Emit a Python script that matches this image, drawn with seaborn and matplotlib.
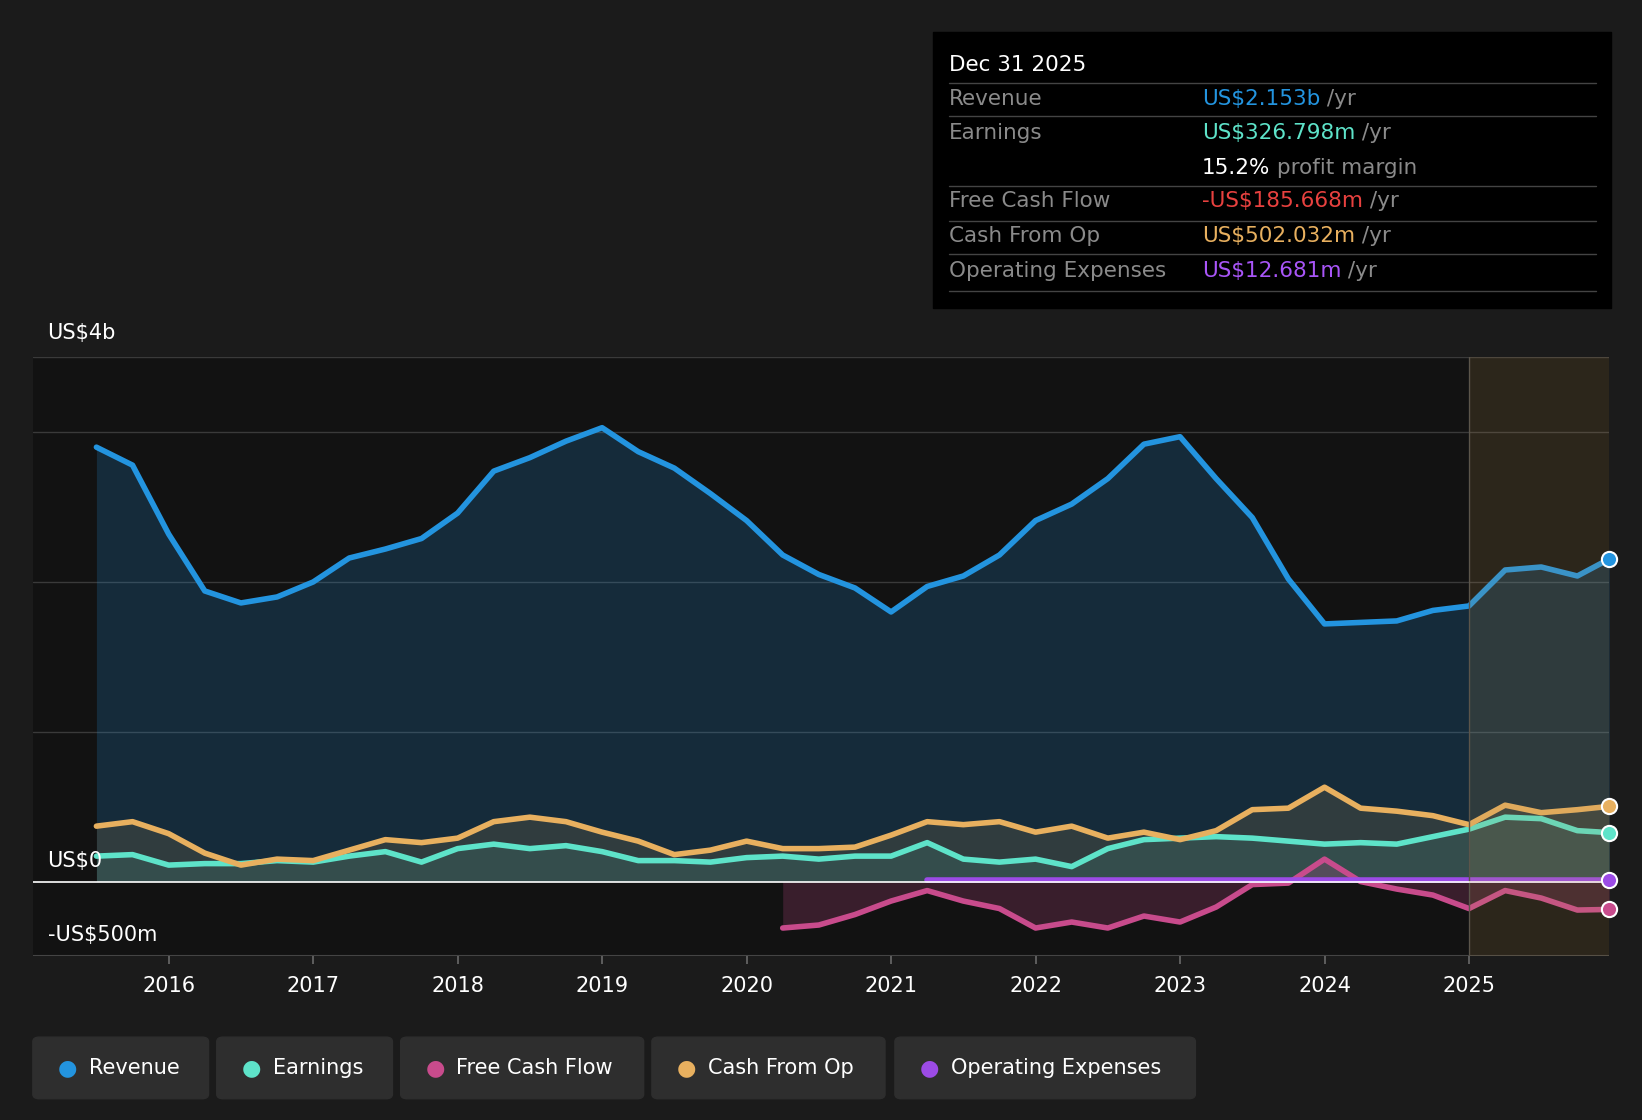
import numpy as np
import pandas as pd
import matplotlib
matplotlib.use("Agg")
import matplotlib.pyplot as plt
from matplotlib.patches import FancyBboxPatch, Rectangle
import seaborn as sns

# quarterly values, US$ billions
years = [2015.5 + 0.25 * i for i in range(42)] + [2025.97]
revenue = [2.90, 2.78, 2.32, 1.94, 1.86, 1.90, 2.00, 2.16, 2.22, 2.29, 2.46, 2.74, 2.83, 2.94,
           3.03, 2.87, 2.76, 2.59, 2.41, 2.18, 2.05, 1.96, 1.80, 1.97, 2.04, 2.18, 2.41, 2.52,
           2.69, 2.92, 2.97, 2.69, 2.43, 2.02, 1.72, 1.73, 1.74, 1.81, 1.84, 2.08, 2.10, 2.04, 2.153]
earnings = [0.17, 0.18, 0.11, 0.12, 0.12, 0.14, 0.13, 0.17, 0.20, 0.13, 0.22, 0.25, 0.22, 0.24,
            0.20, 0.14, 0.14, 0.13, 0.16, 0.17, 0.15, 0.17, 0.17, 0.26, 0.15, 0.13, 0.15, 0.10,
            0.22, 0.28, 0.29, 0.30, 0.29, 0.27, 0.25, 0.26, 0.25, 0.30, 0.35, 0.43, 0.42, 0.34, 0.327]
cash_op = [0.37, 0.40, 0.32, 0.19, 0.11, 0.15, 0.14, 0.21, 0.28, 0.26, 0.29, 0.40, 0.43, 0.40,
           0.33, 0.27, 0.18, 0.21, 0.27, 0.22, 0.22, 0.23, 0.31, 0.40, 0.38, 0.40, 0.33, 0.37,
           0.29, 0.33, 0.28, 0.34, 0.48, 0.49, 0.63, 0.49, 0.47, 0.44, 0.38, 0.51, 0.46, 0.48, 0.502]
fcf_years = years[19:]
fcf = [-0.31, -0.29, -0.22, -0.13, -0.06, -0.13, -0.18, -0.31, -0.27, -0.31, -0.23, -0.27,
       -0.17, -0.02, -0.01, 0.15, 0.0, -0.05, -0.09, -0.18, -0.06, -0.11, -0.19, -0.186]
opex_years = years[23:]
opex = [0.012] * len(opex_years)

x_ticks = list(range(2016, 2026))

BG = "#1b1b1b"
C_REV, C_EARN, C_FCF, C_CFO, C_OPEX = "#2394df", "#5ee3c9", "#c84b8c", "#e8b05f", "#9c4be6"

sns.set_theme(style="dark")
plt.rcParams["font.family"] = ["DejaVu Sans"]
fig = plt.figure(figsize=(16.42, 11.2), dpi=100, facecolor=BG)
ax = fig.add_axes([0.02, 0.146, 0.96, 0.535])
ax.set_facecolor("#121212")

ax.fill_between(years, revenue, 0, color=C_REV, alpha=0.2, lw=0)
ax.fill_between(years, cash_op, 0, color=C_CFO, alpha=0.13, lw=0)
ax.fill_between(years, earnings, 0, color=C_EARN, alpha=0.1, lw=0)
ax.fill_between(fcf_years, fcf, 0, color=C_FCF, alpha=0.22, lw=0)

series = [(years, revenue, C_REV), (years, earnings, C_EARN), (years, cash_op, C_CFO),
          (fcf_years, fcf, C_FCF), (opex_years, opex, C_OPEX)]
for xs, ys, c in series:
    sns.lineplot(x=xs, y=ys, color=c, lw=4, ax=ax)
    ax.scatter([xs[-1]], [ys[-1]], s=120, color=c, edgecolor="white", lw=1.5, zorder=5, clip_on=False)

ax.add_patch(Rectangle((2025, -0.5), 0.97, 4, color="#b8904f", alpha=0.16, lw=0, zorder=4))
ax.axvline(2025, color="#4a4a4a", lw=1)
ax.set_xlim(2015.06, 2025.97)
ax.set_ylim(-0.5, 3.5)
for yv in [1.0, 2.0, 3.0, 3.5]:
    ax.axhline(yv, color="#3a3a3a", lw=1, zorder=0)
ax.axhline(-0.5, color="#444444", lw=1.5)
ax.axhline(0, color="white", lw=1.2)
ax.set_yticks([])
ax.set_xticks(x_ticks)
ax.set_xticklabels([str(t) for t in x_ticks], color="white", fontsize=15)
ax.tick_params(axis="x", length=6, color="#666666", pad=8, bottom=True)
for s in ax.spines.values():
    s.set_visible(False)
ax.grid(False)

fig.text(0.029, 0.697, "US$4b", color="white", fontsize=15)
fig.text(0.029, 0.226, "US$0", color="white", fontsize=15)
fig.text(0.029, 0.160, "-US$500m", color="white", fontsize=15)

# tooltip box
fig.patches.append(Rectangle((0.568, 0.725), 0.413, 0.246, transform=fig.transFigure,
                             color="black", zorder=0))
fig.text(0.578, 0.937, "Dec 31 2025", color="white", fontsize=15.5)
rows = [("Revenue", "US$2.153b", C_REV, " /yr"),
        ("Earnings", "US$326.798m", C_EARN, " /yr"),
        ("", "15.2%", "white", " profit margin"),
        ("Free Cash Flow", "-US$185.668m", "#e8413f", " /yr"),
        ("Cash From Op", "US$502.032m", C_CFO, " /yr"),
        ("Operating Expenses", "US$12.681m", "#a855f7", " /yr")]
ys_rows = [0.906, 0.876, 0.845, 0.815, 0.784, 0.753]
for (lab, val, col, suf), yy in zip(rows, ys_rows):
    fig.text(0.578, yy, lab, color="#8a8a8a", fontsize=15.5)
    t = fig.text(0.732, yy, val, color=col, fontsize=15.5)
    fig.canvas.draw()
    bb = t.get_window_extent()
    fig.text(bb.x1 / fig.bbox.width, yy, suf, color="#8a8a8a", fontsize=15.5)
for yy in [0.926, 0.896, 0.834, 0.803, 0.773, 0.740]:
    fig.lines.append(plt.Line2D([0.578, 0.972], [yy, yy], transform=fig.transFigure,
                                color="#444444", lw=1))

# legend buttons
legend = [("Revenue", C_REV, 0.020, 0.107), ("Earnings", C_EARN, 0.132, 0.107),
          ("Free Cash Flow", C_FCF, 0.244, 0.148), ("Cash From Op", C_CFO, 0.397, 0.142),
          ("Operating Expenses", C_OPEX, 0.545, 0.183)]
for name, c, x0, w in legend:
    fig.patches.append(FancyBboxPatch((x0, 0.019), w, 0.055, boxstyle="round,pad=0,rounding_size=0.004",
                                      transform=fig.transFigure, color="#2e2e2e"))
    fig.text(x0 + 0.015, 0.0465, "●", color=c, fontsize=16, va="center")
    fig.text(x0 + 0.034, 0.0465, name, color="white", fontsize=15, va="center")

fig.savefig("out.png", dpi=100, facecolor=BG)
